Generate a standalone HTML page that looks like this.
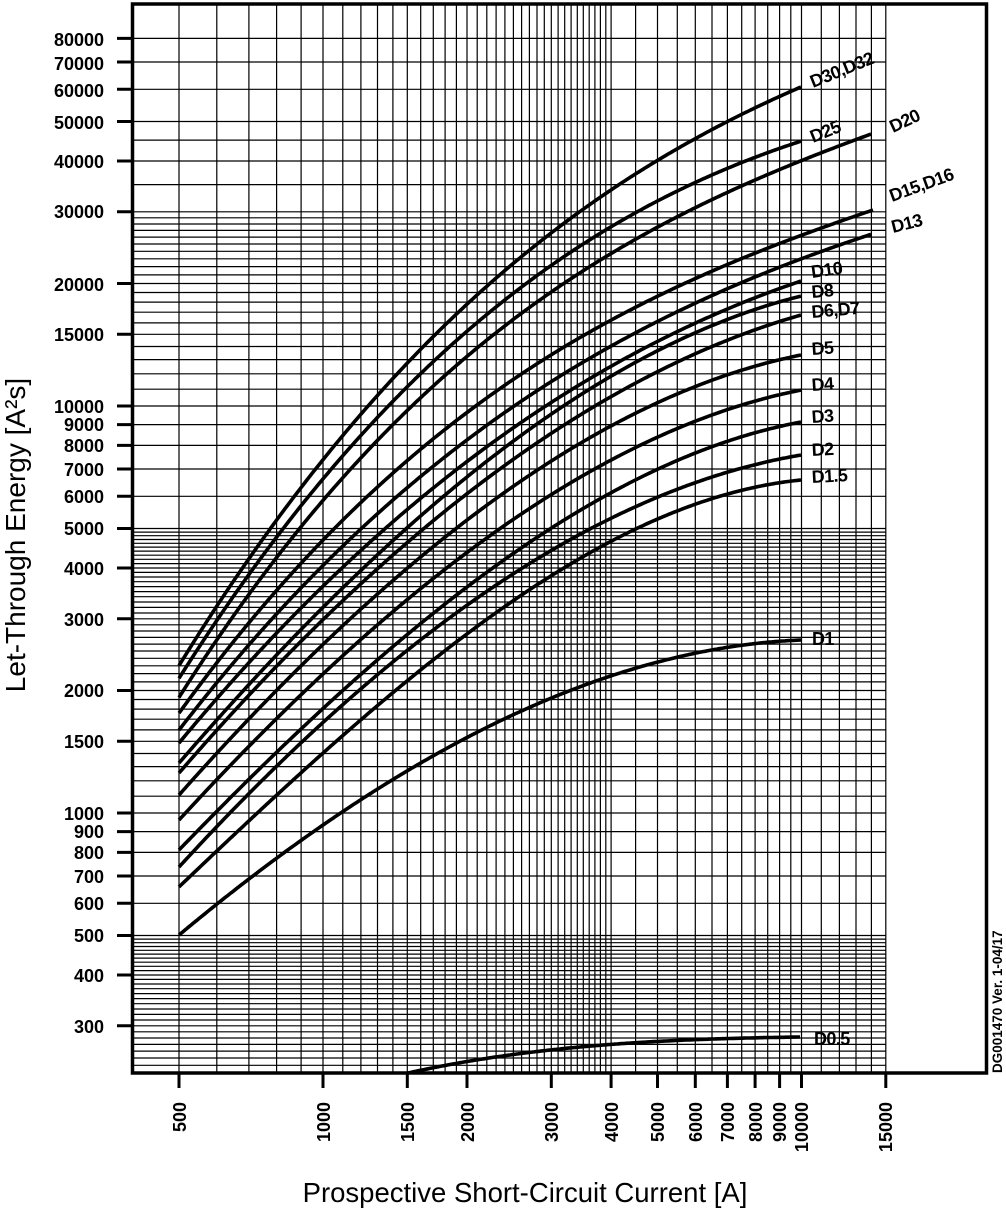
<!DOCTYPE html>
<html><head><meta charset="utf-8">
<style>
html,body{margin:0;padding:0;background:#fff;}
svg{display:block;}
text{font-family:"Liberation Sans",Arial,sans-serif;fill:#000;}
.yl{font-size:18px;font-weight:bold;text-anchor:end;}
.xl{font-size:18px;font-weight:bold;text-anchor:end;}
.cl{font-size:18px;font-weight:bold;letter-spacing:-0.6px;}
</style></head>
<body>
<svg id="s" width="1006" height="1209" viewBox="0 0 1006 1209" xmlns="http://www.w3.org/2000/svg">
<g id="grid" stroke="#000" stroke-width="1.2" fill="none"></g>
<g id="curves" stroke="#000" stroke-width="3.6" fill="none" stroke-linecap="butt"></g>
<rect x="132.5" y="4" width="854" height="1069" fill="none" stroke="#000" stroke-width="3.5"/>
<g id="ticks" stroke="#000" stroke-width="3"></g>

<g class="yl">
<text x="104" y="46">80000</text>
<text x="104" y="70">70000</text>
<text x="104" y="97">60000</text>
<text x="104" y="129">50000</text>
<text x="104" y="168">40000</text>
<text x="104" y="218">30000</text>
<text x="104" y="291">20000</text>
<text x="104" y="341">15000</text>
<text x="104" y="413">10000</text>
<text x="104" y="431">9000</text>
<text x="104" y="452">8000</text>
<text x="104" y="476">7000</text>
<text x="104" y="503">6000</text>
<text x="104" y="535">5000</text>
<text x="104" y="575">4000</text>
<text x="104" y="626">3000</text>
<text x="104" y="697">2000</text>
<text x="104" y="748">1500</text>
<text x="104" y="820">1000</text>
<text x="104" y="838">900</text>
<text x="104" y="859">800</text>
<text x="104" y="883">700</text>
<text x="104" y="910">600</text>
<text x="104" y="942">500</text>
<text x="104" y="982">400</text>
<text x="104" y="1033">300</text>
</g>

<g class="xl">
<text transform="translate(186,1102) rotate(-90)">500</text>
<text transform="translate(330,1102) rotate(-90)">1000</text>
<text transform="translate(414,1102) rotate(-90)">1500</text>
<text transform="translate(474,1102) rotate(-90)">2000</text>
<text transform="translate(558,1102) rotate(-90)">3000</text>
<text transform="translate(618,1102) rotate(-90)">4000</text>
<text transform="translate(664,1102) rotate(-90)">5000</text>
<text transform="translate(702,1102) rotate(-90)">6000</text>
<text transform="translate(734,1102) rotate(-90)">7000</text>
<text transform="translate(762,1102) rotate(-90)">8000</text>
<text transform="translate(786,1102) rotate(-90)">9000</text>
<text transform="translate(808,1102) rotate(-90)">10000</text>
<text transform="translate(892,1102) rotate(-90)">15000</text>
</g>

<text x="525" y="1202" text-anchor="middle" font-size="27.5">Prospective Short-Circuit Current [A]</text>
<text transform="translate(25,535) rotate(-90)" text-anchor="middle" font-size="28">Let-Through Energy [A²s]</text>
<text transform="translate(1002,1073) rotate(-90)" font-size="13.5" font-weight="bold">DG001470 Ver. 1-04/17</text>

<g class="cl">
<text transform="translate(813,88) rotate(-22)">D30,D32</text>
<text transform="translate(813,143) rotate(-22)">D25</text>
<text transform="translate(893,133) rotate(-25)">D20</text>
<text transform="translate(892,202) rotate(-20)">D15,D16</text>
<text transform="translate(893,233) rotate(-14)">D13</text>
<text transform="translate(812,278) rotate(-8)">D10</text>
<text transform="translate(812,298) rotate(-5)">D8</text>
<text transform="translate(812,318) rotate(-5)">D6,D7</text>
<text transform="translate(812,355) rotate(-4)">D5</text>
<text transform="translate(812,391) rotate(-4)">D4</text>
<text transform="translate(812,423) rotate(-4)">D3</text>
<text transform="translate(812,456) rotate(-3)">D2</text>
<text transform="translate(812,483) rotate(-3)">D1.5</text>
<text x="812" y="645">D1</text>
<text x="814" y="1045">D0.5</text>
</g>
</svg>
<script>
(function(){
var NS="http://www.w3.org/2000/svg";
function X(v){return 323+478.5*Math.log10(v/1000);}
function Y(v){return 406-407*Math.log10(v/10000);}
var g=document.getElementById("grid"),d="";
var xs=[];
for(var v=500;v<1000;v+=100)xs.push(v);
for(v=1000;v<4000;v+=100)xs.push(v);
for(v=4000;v<10000;v+=500)xs.push(v);
for(v=10000;v<=15000;v+=1000)xs.push(v);
xs.forEach(function(v){var x=X(v).toFixed(1);d+="M"+x+" 4V1073";});
var ys=[];
for(v=240;v<500;v+=10)ys.push(v);
for(v=500;v<5000;v+=100)ys.push(v);
for(v=5000;v<30000;v+=1000)ys.push(v);
[30000,35000,40000,45000,50000,60000,70000,80000].forEach(function(a){ys.push(a);});
ys.forEach(function(v){var y=Y(v).toFixed(1);d+="M132 "+y+"H"+X(15000).toFixed(1);});
var p=document.createElementNS(NS,"path");p.setAttribute("d",d);g.appendChild(p);
var t="",tk=document.getElementById("ticks");
[80000,70000,60000,50000,40000,30000,20000,15000,10000,9000,8000,7000,6000,5000,4000,3000,2000,1500,1000,900,800,700,600,500,400,300].forEach(function(v){t+="M117 "+Y(v).toFixed(1)+"H131";});
[500,1000,1500,2000,3000,4000,5000,6000,7000,8000,9000,10000,15000].forEach(function(v){t+="M"+X(v).toFixed(1)+" 1073V1088";});
p=document.createElementNS(NS,"path");p.setAttribute("d",t);tk.appendChild(p);
var C=[
[[179,666],[214,600],[262,536],[310,478],[362,417],[410,363],[460,312],[500,273],[533,247],[567,217],[630,180],[700,135],[801,87]],
[[179,678],[236,600],[325,478],[377,417],[427,370],[460,337],[500,300],[533,273],[567,250],[630,223],[700,186],[801,141]],
[[179,697],[253,600],[347,478],[397,417],[433,383],[467,353],[500,327],[533,303],[567,280],[630,247],[700,210],[801,160],[871,134]],
[[179,713],[273,600],[387,478],[500,383],[567,345],[630,312],[700,279],[801,235],[873,210]],
[[179,730],[294,600],[415,478],[520,400],[630,337],[700,303],[801,258],[872,234]],
[[179,743],[313,600],[440,478],[540,410],[630,357],[700,322],[801,281]],
[[179,763],[334,600],[460,478],[550,416],[630,365],[700,333],[801,296]],
[[179,773],[344,600],[487,478],[560,428],[630,385],[700,353],[801,315]],
[[179,795],[373,600],[520,478],[580,444],[630,417],[700,386],[801,355]],
[[179,820],[411,600],[480,540],[573,478],[630,452],[700,422],[801,390]],
[[179,850],[300,729],[431,617],[480,577],[600,497],[707,450],[801,422]],
[[179,867],[300,745],[431,633],[480,593],[613,518],[700,482],[801,455]],
[[179,887],[300,770],[431,667],[480,623],[597,547],[680,510],[801,480]],
[[179,935],[323,828],[431,753],[550,700],[640,668],[713,649],[801,640]],
[[408,1073],[531,1052],[640,1043],[700,1039],[801,1037]]
];
function solve(A,b){var n=b.length;for(var i=0;i<n;i++){var m=i;for(var k=i+1;k<n;k++)if(Math.abs(A[k][i])>Math.abs(A[m][i]))m=k;var tA=A[i];A[i]=A[m];A[m]=tA;var tb=b[i];b[i]=b[m];b[m]=tb;for(k=i+1;k<n;k++){var f=A[k][i]/A[i][i];for(var j=i;j<n;j++)A[k][j]-=f*A[i][j];b[k]-=f*b[i];}}var x=new Array(n);for(i=n-1;i>=0;i--){var s=b[i];for(j=i+1;j<n;j++)s-=A[i][j]*x[j];x[i]=s/A[i][i];}return x;}
var cg=document.getElementById("curves");
C.forEach(function(P){
 var x0=P[0][0],x1=P[P.length-1][0],deg=3;
 var A=[],b=[];for(var i=0;i<=deg;i++){A.push([]);for(var j=0;j<=deg;j++)A[i].push(0);b.push(0);}
 P.forEach(function(q,idx){var u=(q[0]-x0)/(x1-x0);var w=(idx==0||idx==P.length-1)?20:1;
  for(var i=0;i<=deg;i++){for(var j=0;j<=deg;j++)A[i][j]+=w*Math.pow(u,i+j);b[i]+=w*q[1]*Math.pow(u,i);}});
 var c=solve(A,b);
 var s="";
 for(var x=x0;x<=x1+0.01;x+=2){var u=(x-x0)/(x1-x0);var y=c[0]+c[1]*u+c[2]*u*u+c[3]*u*u*u;if(y>1073)y=1073;s+=(s?"L":"M")+x.toFixed(1)+" "+y.toFixed(1);}
 var e=document.createElementNS(NS,"path");e.setAttribute("d",s);cg.appendChild(e);
});
})();
</script>
</body></html>
